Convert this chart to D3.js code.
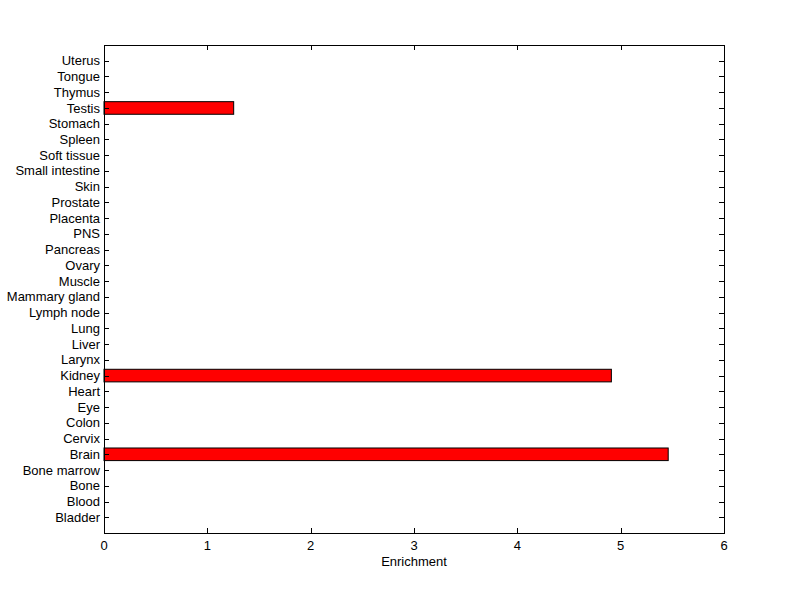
<!DOCTYPE html>
<html>
<head>
<meta charset="utf-8">
<script src="https://cdn.jsdelivr.net/npm/d3@7"></script>
<style>
  body { margin: 0; background: #fff; }
  svg text { font-family: "Liberation Sans", Arial, sans-serif; font-size: 13px; fill: #000; }
</style>
</head>
<body>
<div id="chart"></div>
<script>
// tissue categories, bottom to top
const tissues = ["Bladder", "Blood", "Bone", "Bone marrow", "Brain", "Cervix", "Colon", "Eye",
  "Heart", "Kidney", "Larynx", "Liver", "Lung", "Lymph node", "Mammary gland", "Muscle", "Ovary",
  "Pancreas", "PNS", "Placenta", "Prostate", "Skin", "Small intestine", "Soft tissue", "Spleen",
  "Stomach", "Testis", "Thymus", "Tongue", "Uterus"];
const enrichment = [0, 0, 0, 0, 5.46, 0, 0, 0, 0, 4.91, 0, 0, 0, 0, 0, 0, 0,
  0, 0, 0, 0, 0, 0, 0, 0, 0, 1.255, 0, 0, 0];
const xTicks = [0, 1, 2, 3, 4, 5, 6];

const width = 800, height = 599;
const mLeft = 104, mRight = 724, mTop = 45, mBottom = 533;
const tickLen = 5;

const svg = d3.select("#chart").append("svg")
    .attr("width", width)
    .attr("height", height);

const x = d3.scaleLinear().domain([0, 6]).range([mLeft, mRight]);
const y = d3.scaleLinear().domain([0, tissues.length + 1]).range([mBottom, mTop]);
const barH = Math.abs(y(0.8) - y(0));

const data = tissues.map((t, i) => ({ name: t, pos: i + 1, value: enrichment[i] }));

// bars
svg.selectAll(".bar")
    .data(data.filter(d => d.value > 0))
    .enter()
    .append("rect")
    .attr("class", "bar")
    .attr("x", x(0))
    .attr("y", d => y(d.pos) - barH / 2)
    .attr("width", d => x(d.value) - x(0))
    .attr("height", barH)
    .attr("fill", "#ff0000")
    .attr("stroke", "#000")
    .attr("stroke-width", 1);

// y ticks (left + right, inside)
data.forEach(d => {
  let yy = Math.round(y(d.pos)) + 0.5;
  svg.append("line").attr("x1", mLeft).attr("x2", mLeft + tickLen)
      .attr("y1", yy).attr("y2", yy).attr("stroke", "#000");
  svg.append("line").attr("x1", mRight - tickLen).attr("x2", mRight)
      .attr("y1", yy).attr("y2", yy).attr("stroke", "#000");
  svg.append("text")
      .attr("x", mLeft - 4)
      .attr("y", y(d.pos))
      .attr("dy", "0.35em")
      .attr("text-anchor", "end")
      .text(d.name);
});

// x ticks (bottom + top, inside)
xTicks.forEach(t => {
  let xx = Math.round(x(t)) + 0.5;
  svg.append("line").attr("x1", xx).attr("x2", xx)
      .attr("y1", mBottom).attr("y2", mBottom - tickLen).attr("stroke", "#000");
  svg.append("line").attr("x1", xx).attr("x2", xx)
      .attr("y1", mTop).attr("y2", mTop + tickLen).attr("stroke", "#000");
  svg.append("text")
      .attr("x", x(t))
      .attr("y", mBottom + 17)
      .attr("text-anchor", "middle")
      .text(t);
});

// box
svg.append("rect")
    .attr("x", mLeft + 0.5)
    .attr("y", mTop + 0.5)
    .attr("width", mRight - mLeft)
    .attr("height", mBottom - mTop)
    .attr("fill", "none")
    .attr("stroke", "#000");

svg.append("text")
    .attr("x", (mLeft + mRight) / 2)
    .attr("y", mBottom + 33)
    .attr("text-anchor", "middle")
    .text("Enrichment");
</script>
</body>
</html>
